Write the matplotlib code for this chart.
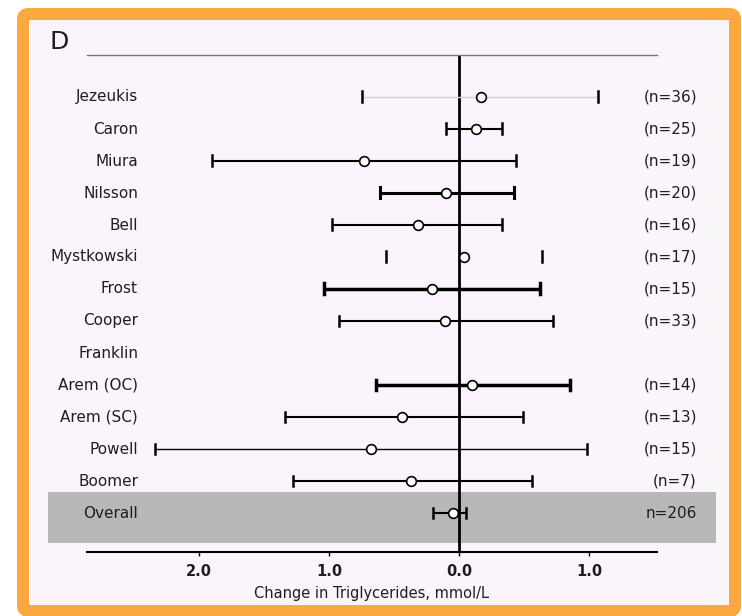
import matplotlib
matplotlib.use("Agg")
import matplotlib.pyplot as plt
from matplotlib.patches import FancyBboxPatch, Rectangle

# ── data ─────────────────────────────────────────────────────────────────────
studies = ["Jezeukis", "Caron", "Miura", "Nilsson", "Bell", "Mystkowski", "Frost",
           "Cooper", "Franklin", "Arem (OC)", "Arem (SC)", "Powell", "Boomer", "Overall"]
n_labels = ["(n=36)", "(n=25)", "(n=19)", "(n=20)", "(n=16)", "(n=17)", "(n=15)",
            "(n=33)", "", "(n=14)", "(n=13)", "(n=15)", "(n=7)", "n=206"]
effect = [-0.17, -0.13, 0.73, 0.10, 0.32, -0.04, 0.21, 0.11, None, -0.10, 0.44, 0.68, 0.37, 0.05]
ci_low = [-1.07, -0.33, -0.44, -0.42, -0.33, -0.64, -0.62, -0.72, None, -0.85, -0.49, -0.98, -0.56, -0.05]
ci_high = [0.75, 0.10, 1.90, 0.61, 0.98, 0.56, 1.04, 0.92, None, 0.64, 1.34, 2.34, 1.28, 0.20]
xticks = [2.0, 1.0, 0.0, -1.0]
xtick_labels = ["2.0", "1.0", "0.0", "1.0"]

# line styles per row
lws = [1.0, 1.5, 1.5, 2.2, 1.5, 0.0, 2.5, 1.5, 0, 2.5, 1.5, 1.0, 1.5, 1.5]
lcols = ["#d8d0d8"] + ["black"] * 13
TXT = "#1e1e1e"

W, H = 742, 616
fig = plt.figure(figsize=(W / 100, H / 100), dpi=100)
fig.patch.set_facecolor("white")

def fx(px):
    return px / W

def fy(py):
    return 1 - py / H

# ── orange frame + panel ─────────────────────────────────────────────────────
fig.patches.append(Rectangle((fx(706), fy(605)), fx(729) - fx(706), fy(20) - fy(605),
                             transform=fig.transFigure, facecolor="#f8f6f8",
                             edgecolor="none", zorder=0))
fig.patches.append(Rectangle((fx(29), fy(605)), fx(706) - fx(29), fy(20) - fy(605),
                             transform=fig.transFigure, facecolor="#fcf4fc",
                             edgecolor="none", zorder=0))
fig.patches.append(FancyBboxPatch((fx(23), fy(611)), fx(735) - fx(23), fy(14) - fy(611),
                                  boxstyle="round,pad=0,rounding_size=0.008",
                                  transform=fig.transFigure, facecolor="none",
                                  edgecolor="#fba83e", linewidth=8.6, zorder=5))
# grey band behind overall
fig.patches.append(Rectangle((fx(48), fy(543)), fx(716) - fx(48), fy(492) - fy(543),
                             transform=fig.transFigure, facecolor="#b8b8b8",
                             edgecolor="none", zorder=1))

ax = fig.add_axes([fx(87), fy(552), fx(657) - fx(87), fy(55) - fy(552)])
ax.patch.set_alpha(0)
ax.set_zorder(2)

nrows = len(studies)
ax.set_ylim(14.22, -1.31)
ax.set_xlim(2.86, -1.52)

for i in range(nrows):
    if effect[i] is None:
        continue
    lo, hi = ci_low[i], ci_high[i]
    if lws[i] > 0:
        ax.plot([lo, hi], [i, i], color=lcols[i], lw=lws[i], zorder=3, solid_capstyle="butt")
    capw = max(lws[i], 1.8)
    ax.plot([lo, lo], [i - 0.17, i + 0.17], color="black", lw=capw, zorder=3)
    ax.plot([hi, hi], [i - 0.17, i + 0.17], color="black", lw=capw, zorder=3)
    ax.plot(effect[i], i, "o", ms=7, mfc="white", mec="black", mew=1.2, zorder=4)

ax.axvline(0, color="black", lw=2, zorder=2)

for s in ["left", "right"]:
    ax.spines[s].set_visible(False)
ax.spines["top"].set_color("#777777")
ax.spines["top"].set_linewidth(1.0)
ax.spines["bottom"].set_linewidth(1.5)
ax.set_yticks([])
ax.set_xticks(xticks)
ax.set_xticklabels(xtick_labels, fontsize=10.5, fontweight="bold", color=TXT)
ax.tick_params(axis="x", length=3, width=1, pad=6)
ax.set_xlabel("Change in Triglycerides, mmol/L", fontsize=10.5, color=TXT, labelpad=5)

for i in range(nrows):
    fig.text(fx(138), fy(97 + 32 * i), studies[i], ha="right", va="center",
             fontsize=11, color=TXT)
    if n_labels[i]:
        fig.text(fx(697), fy(97 + 32 * i), n_labels[i], ha="right", va="center",
                 fontsize=11, color=TXT)

fig.text(fx(50), fy(42), "D", ha="left", va="center", fontsize=18, color=TXT)

plt.savefig("out.png", dpi=100, facecolor="white")
